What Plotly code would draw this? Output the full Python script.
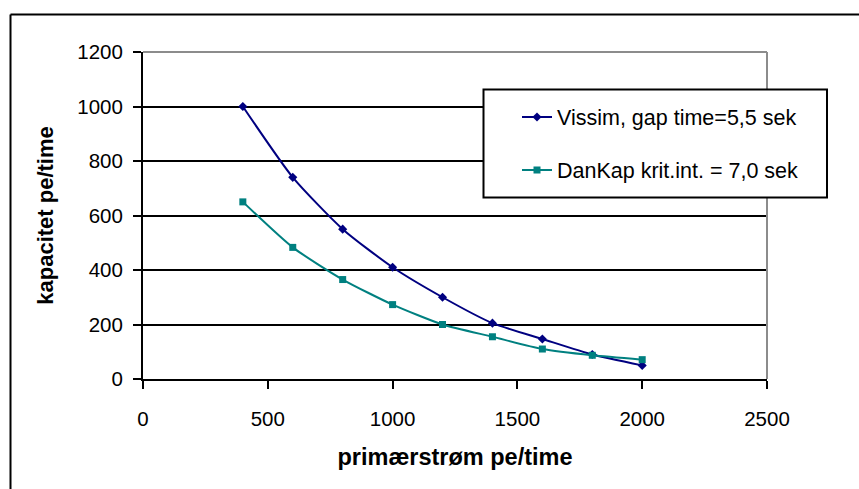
import plotly.graph_objects as go

# Primary flow (pe/time) and resulting capacity (pe/time)
primary_flow = [400, 600, 800, 1000, 1200, 1400, 1600, 1800, 2000]
vissim_capacity = [1000, 740, 550, 410, 300, 205, 147, 90, 50]
dankap_capacity = [650, 483, 365, 273, 200, 155, 110, 87, 71]

series_names = ["Vissim, gap time=5,5 sek", "DanKap krit.int. = 7,0 sek"]
x_ticks = [0, 500, 1000, 1500, 2000, 2500]
y_ticks = [0, 200, 400, 600, 800, 1000, 1200]

W, H = 859, 489
L, R, T, B = 143, 92, 52, 110
PW, PH = W - L - R, H - T - B


def px_x(p):
    return (p - L) / PW


def px_y(p):
    return (H - B - p) / PH


FONT = "Liberation Sans, Arial, sans-serif"

fig = go.Figure()
fig.add_trace(go.Scatter(
    x=primary_flow, y=vissim_capacity, name=series_names[0],
    mode="lines+markers", line=dict(color="#000080", width=2, shape="spline", smoothing=0.6),
    marker=dict(symbol="diamond", size=7, color="#000080"),
    legend="legend", showlegend=True,
))
fig.add_trace(go.Scatter(
    x=primary_flow, y=dankap_capacity, name=series_names[1],
    mode="lines+markers", line=dict(color="#008080", width=2, shape="spline", smoothing=0.6),
    marker=dict(symbol="square", size=7, color="#008080"),
    legend="legend2", showlegend=True,
))

shapes = [
    # plot area frame (top and right)
    dict(type="line", xref="paper", yref="paper", x0=0, x1=1, y0=1, y1=1,
         line=dict(color="#8c8c8c", width=2), layer="above"),
    dict(type="line", xref="paper", yref="paper", x0=1, x1=1, y0=0, y1=1,
         line=dict(color="#8c8c8c", width=2), layer="above"),
    # chart frame (top and left edges)
    dict(type="line", xref="paper", yref="paper", x0=px_x(10.5), x1=px_x(870), y0=px_y(14.5), y1=px_y(14.5),
         line=dict(color="black", width=2), layer="above"),
    dict(type="line", xref="paper", yref="paper", x0=px_x(10.5), x1=px_x(10.5), y0=px_y(14.5), y1=px_y(500),
         line=dict(color="black", width=2), layer="above"),
    # legend box
    dict(type="rect", xref="paper", yref="paper", x0=px_x(483.5), x1=px_x(827), y0=px_y(197.5), y1=px_y(89.5),
         line=dict(color="black", width=2), fillcolor="white", layer="above"),
]

legend_common = dict(
    xanchor="left", yanchor="middle", bgcolor="rgba(0,0,0,0)", borderwidth=0,
    font=dict(family=FONT, size=21.5, color="black"),
)

fig.update_layout(
    width=W, height=H,
    margin=dict(l=L, r=R, t=T, b=B),
    paper_bgcolor="white", plot_bgcolor="white",
    font=dict(family=FONT, size=20, color="black"),
    shapes=shapes,
    showlegend=True,
    legend=dict(x=px_x(517), y=px_y(117), **legend_common),
    legend2=dict(x=px_x(517), y=px_y(170), **legend_common),
    xaxis=dict(
        range=[0, 2500], tickvals=x_ticks, showgrid=False, zeroline=False,
        showline=True, linecolor="black", linewidth=2,
        ticks="outside", ticklen=8, tickwidth=2, tickcolor="black",
        ticklabelstandoff=12,
        tickfont=dict(family=FONT, size=20.5, color="black"),
        title=dict(text="<b>primærstrøm pe/time</b>", font=dict(family=FONT, size=23.5, color="black"), standoff=20),
    ),
    yaxis=dict(
        range=[0, 1200], tickvals=y_ticks, showgrid=True, gridcolor="black", gridwidth=2,
        zeroline=False, showline=True, linecolor="black", linewidth=2,
        ticks="outside", ticklen=8, tickwidth=2, tickcolor="black",
        ticklabelstandoff=6,
        tickfont=dict(family=FONT, size=20.5, color="black"),
        title=dict(text="<b>kapacitet pe/time</b>", font=dict(family=FONT, size=22, color="black"), standoff=18),
    ),
)

fig.write_html("out.html")
